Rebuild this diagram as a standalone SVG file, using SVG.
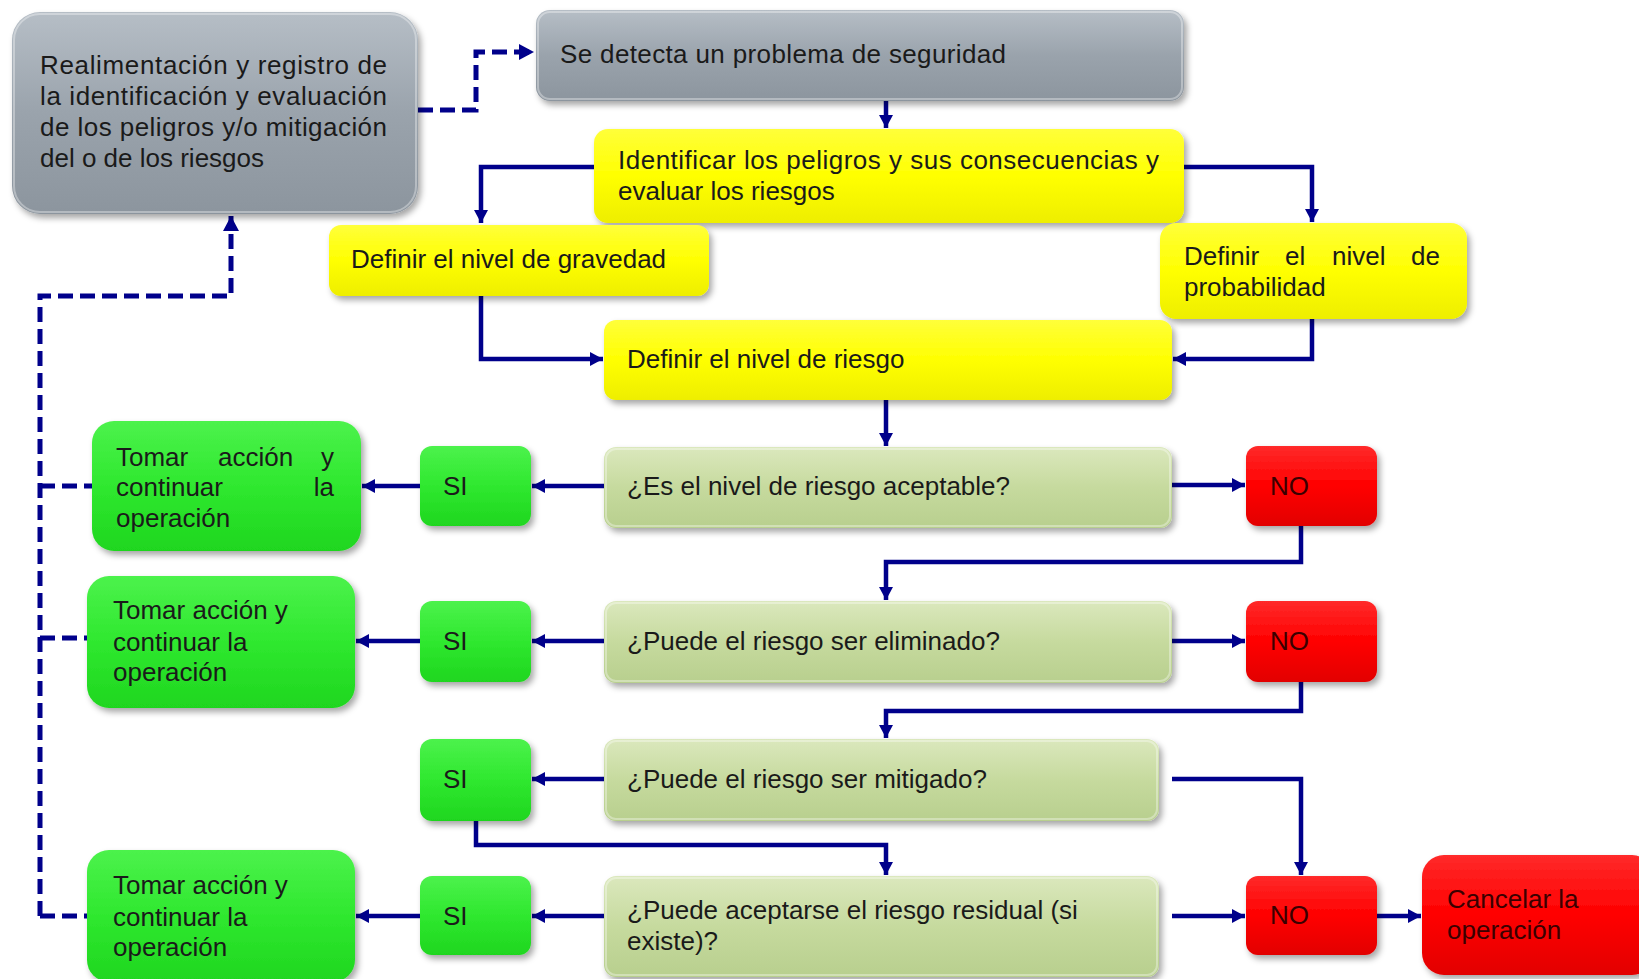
<svg xmlns="http://www.w3.org/2000/svg" width="1639" height="979" viewBox="0 0 1639 979">
<style>
text{font-family:"Liberation Sans",Arial,sans-serif;font-size:26px;fill:#1a1a1a}
.rt{fill:#3a0000}
.box{filter:url(#sh)}
.hl{fill:none;stroke:#ffffff;stroke-opacity:0.35;stroke-width:2}
.gray{fill:url(#gGray)}
.yel{fill:url(#gYel)}
.lg{fill:url(#gLg)}
.grn{fill:url(#gGrn)}
.red{fill:url(#gRed)}
.ln{fill:none;stroke:#00008b;stroke-width:4.5;stroke-linejoin:miter}
.ar{marker-end:url(#ah)}
.dsh{fill:none;stroke:#00008b;stroke-width:5;stroke-dasharray:15 7}
.dar{marker-end:url(#ah2)}
</style>
<defs>
<filter id="sh" x="-10%" y="-10%" width="120%" height="130%">
<feDropShadow dx="3" dy="4" stdDeviation="3" flood-color="#000" flood-opacity="0.35"/>
</filter>
<linearGradient id="gGray" x1="0" y1="0" x2="0" y2="1">
<stop offset="0" stop-color="#b6bec6"/><stop offset="0.5" stop-color="#9aa3ac"/><stop offset="1" stop-color="#8c959e"/>
</linearGradient>
<linearGradient id="gYel" x1="0" y1="0" x2="0" y2="1">
<stop offset="0" stop-color="#ffff3a"/><stop offset="0.5" stop-color="#ffff00"/><stop offset="1" stop-color="#eeee00"/>
</linearGradient>
<linearGradient id="gLg" x1="0" y1="0" x2="0" y2="1">
<stop offset="0" stop-color="#dbe8bd"/><stop offset="0.5" stop-color="#c6da9e"/><stop offset="1" stop-color="#b8cf8e"/>
</linearGradient>
<linearGradient id="gGrn" x1="0" y1="0" x2="0" y2="1">
<stop offset="0" stop-color="#4cf24c"/><stop offset="0.5" stop-color="#2fe82f"/><stop offset="1" stop-color="#1fd61f"/>
</linearGradient>
<linearGradient id="gRed" x1="0" y1="0" x2="0" y2="1">
<stop offset="0" stop-color="#ff2a2a"/><stop offset="0.5" stop-color="#ff0000"/><stop offset="1" stop-color="#e20000"/>
</linearGradient>
<marker id="ah" markerUnits="userSpaceOnUse" markerWidth="14" markerHeight="14" refX="13" refY="7" orient="auto">
<path d="M0,0 L13,7 L0,14 z" fill="#00008b"/>
</marker>
<marker id="ah2" markerUnits="userSpaceOnUse" markerWidth="16" markerHeight="16" refX="15" refY="8" orient="auto">
<path d="M0,0 L15,8 L0,16 z" fill="#00008b"/>
</marker>
</defs>
<rect width="1639" height="979" fill="#ffffff"/>

<g id="connectors">
<path class="dsh dar" d="M418,110 H476 V52 H534"/>
<path class="dsh dar" d="M40,916 V296 H231 V216"/>
<path class="dsh" d="M40,486 H92"/>
<path class="dsh" d="M40,638 H87"/>
<path class="dsh" d="M40,916 H87"/>
<path class="ln ar" d="M886,101 V128"/>
<path class="ln ar" d="M594,167 H481 V223"/>
<path class="ln ar" d="M1184,167 H1312 V222"/>
<path class="ln ar" d="M481,296 V359 H603"/>
<path class="ln ar" d="M1312,319 V359 H1173"/>
<path class="ln ar" d="M886,400 V446"/>
<path class="ln ar" d="M604,486 H532"/>
<path class="ln ar" d="M420,486 H362"/>
<path class="ln ar" d="M1172,485 H1245"/>
<path class="ln ar" d="M1301,526 V562 H886 V600"/>
<path class="ln ar" d="M604,641 H532"/>
<path class="ln ar" d="M420,641 H356"/>
<path class="ln ar" d="M1172,641 H1245"/>
<path class="ln ar" d="M1301,682 V711 H886 V738"/>
<path class="ln ar" d="M604,779 H532"/>
<path class="ln ar" d="M1172,779 H1301 V875"/>
<path class="ln ar" d="M476,821 V845 H886 V875"/>
<path class="ln ar" d="M604,916 H532"/>
<path class="ln ar" d="M420,916 H356"/>
<path class="ln ar" d="M1172,916 H1245"/>
<path class="ln ar" d="M1377,916 H1421"/>
</g>

<g id="n-feedback">
<rect class="box gray" x="12" y="12" width="406" height="202" rx="28"/>
<rect class="hl" x="14" y="14" width="402" height="198" rx="26"/>
<text x="40" y="74" textLength="347" lengthAdjust="spacing">Realimentación y registro de</text>
<text x="40" y="105" textLength="347" lengthAdjust="spacing">la identificación y evaluación</text>
<text x="40" y="136" textLength="347" lengthAdjust="spacing">de los peligros y/o mitigación</text>
<text x="40" y="167">del o de los riesgos</text>
</g>

<g id="n-detect">
<rect class="box gray" x="536" y="10" width="648" height="91" rx="14"/>
<rect class="hl" x="538" y="12" width="644" height="87" rx="12"/>
<text x="560" y="63" textLength="446" lengthAdjust="spacing">Se  detecta un problema de seguridad</text>
</g>

<g id="n-identificar">
<rect class="box yel" x="594" y="129" width="590" height="94" rx="14"/>
<text x="618" y="169" textLength="541" lengthAdjust="spacing">Identificar los peligros y sus consecuencias y</text>
<text x="618" y="200">evaluar los riesgos</text>
</g>

<g id="n-gravedad">
<rect class="box yel" x="329" y="225" width="380" height="71" rx="12"/>
<text x="351" y="268">Definir el nivel de gravedad</text>
</g>

<g id="n-probabilidad">
<rect class="box yel" x="1160" y="223" width="307" height="96" rx="16"/>
<text x="1184" y="265">Definir</text>
<text x="1285" y="265">el</text>
<text x="1332" y="265">nivel</text>
<text x="1440" y="265" text-anchor="end">de</text>
<text x="1184" y="296">probabilidad</text>
</g>

<g id="n-riesgo">
<rect class="box yel" x="604" y="320" width="568" height="80" rx="12"/>
<text x="627" y="368">Definir el nivel de riesgo</text>
</g>

<g id="n-q1">
<rect class="box lg" x="604" y="447" width="568" height="81" rx="12"/>
<rect class="hl" x="606" y="449" width="564" height="77" rx="10"/>
<text x="627" y="495">¿Es el nivel de riesgo aceptable?</text>
</g>
<g id="n-si1">
<rect class="box grn" x="420" y="446" width="111" height="80" rx="12"/>
<text x="443" y="495">SI</text>
</g>
<g id="n-no1">
<rect class="box red" x="1246" y="446" width="131" height="80" rx="12"/>
<text class="rt" x="1270" y="495">NO</text>
</g>
<g id="n-tomar1">
<rect class="box grn" x="92" y="421" width="269" height="130" rx="22"/>
<text x="116" y="466">Tomar</text>
<text x="218" y="466">acción</text>
<text x="334" y="466" text-anchor="end">y</text>
<text x="116" y="496">continuar</text>
<text x="334" y="496" text-anchor="end">la</text>
<text x="116" y="527">operación</text>
</g>

<g id="n-q2">
<rect class="box lg" x="604" y="601" width="568" height="82" rx="12"/>
<rect class="hl" x="606" y="603" width="564" height="78" rx="10"/>
<text x="627" y="650">¿Puede el riesgo ser eliminado?</text>
</g>
<g id="n-si2">
<rect class="box grn" x="420" y="601" width="111" height="81" rx="12"/>
<text x="443" y="650">SI</text>
</g>
<g id="n-no2">
<rect class="box red" x="1246" y="601" width="131" height="81" rx="12"/>
<text class="rt" x="1270" y="650">NO</text>
</g>
<g id="n-tomar2">
<rect class="box grn" x="87" y="576" width="268" height="132" rx="22"/>
<text x="113" y="619">Tomar acción y</text>
<text x="113" y="651">continuar la</text>
<text x="113" y="681">operación</text>
</g>

<g id="n-q3">
<rect class="box lg" x="604" y="739" width="555" height="82" rx="12"/>
<rect class="hl" x="606" y="741" width="551" height="78" rx="10"/>
<text x="627" y="788">¿Puede el riesgo ser mitigado?</text>
</g>
<g id="n-si3">
<rect class="box grn" x="420" y="739" width="111" height="82" rx="12"/>
<text x="443" y="788">SI</text>
</g>

<g id="n-q4">
<rect class="box lg" x="604" y="876" width="555" height="101" rx="12"/>
<rect class="hl" x="606" y="878" width="551" height="97" rx="10"/>
<text x="627" y="919">¿Puede aceptarse el riesgo residual (si</text>
<text x="627" y="950">existe)?</text>
</g>
<g id="n-si4">
<rect class="box grn" x="420" y="876" width="111" height="79" rx="12"/>
<text x="443" y="925">SI</text>
</g>
<g id="n-no3">
<rect class="box red" x="1246" y="876" width="131" height="79" rx="12"/>
<text class="rt" x="1270" y="924">NO</text>
</g>
<g id="n-tomar3">
<rect class="box grn" x="87" y="850" width="268" height="132" rx="22"/>
<text x="113" y="894">Tomar acción y</text>
<text x="113" y="926">continuar la</text>
<text x="113" y="956">operación</text>
</g>
<g id="n-cancelar">
<rect class="box red" x="1422" y="855" width="232" height="120" rx="22"/>
<text class="rt" x="1447" y="908">Cancelar la</text>
<text class="rt" x="1447" y="939">operación</text>
</g>
</svg>
